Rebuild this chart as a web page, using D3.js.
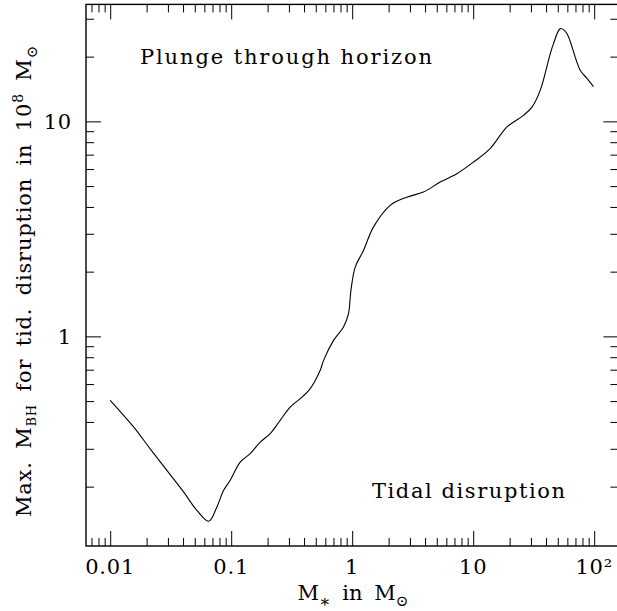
<!DOCTYPE html>
<html><head><meta charset="utf-8">
<script src="https://cdn.jsdelivr.net/npm/d3@7"></script>
<style>html,body{margin:0;padding:0;background:#fff;}svg{display:block;}</style>
</head><body>
<svg id="c" width="617" height="611"></svg>
<script>
// stellar mass (Msun)
const starMass = [0.01,0.0156,0.0214,0.0294,0.0404,0.0521,0.0652,0.0762,0.0864,0.0981,0.1187,0.1435,0.1737,0.210,0.254,0.307,0.372,0.450,0.544,0.580,0.701,0.847,0.932,0.976,1.059,1.240,1.500,2.06,2.83,3.88,5.33,7.33,10.06,13.8,18.97,26.0,30.6,35.8,43.3,46.1,52.4,57.5,61.4,76.6,87.5,98.6];
// max BH mass for tidal disruption (1e8 Msun)
const maxBH = [0.504,0.379,0.300,0.238,0.189,0.155,0.138,0.161,0.192,0.214,0.260,0.285,0.322,0.353,0.407,0.469,0.513,0.571,0.695,0.773,0.958,1.105,1.275,1.637,2.10,2.51,3.23,4.07,4.44,4.69,5.22,5.71,6.47,7.47,9.41,10.66,11.65,13.94,20.6,23.0,27.0,26.3,24.7,17.3,15.8,14.5];
const xMajorTicks = [0.01,0.1,1,10,100];
const xTickLabels = ["0.01","0.1","1","10","10²"];
const yMajorTicks = [1,10];
const yTickLabels = ["1","10"];

const svg = d3.select("#c");
const L=86, R=618.4, T=4.4, B=546;
const x = d3.scaleLog().domain([Math.pow(10,-2.2), Math.pow(10,2.2)]).range([L,R]);
const y = d3.scaleLog().domain([Math.pow(10,-0.975), Math.pow(10,1.544)]).range([B,T]);
const font = "'DejaVu Serif', serif";

function minors(scale){
  const [a,b]=scale.domain(); const out=[];
  for(let e=Math.floor(Math.log10(a));e<=Math.ceil(Math.log10(b));e++){
    for(let k=2;k<=9;k++){const v=k*Math.pow(10,e); if(v>=a&&v<=b) out.push(v);}
  }
  return out;
}
const xMinor = minors(x), yMinor = minors(y);
const major=15, minor=8;

function styleAxis(g){ g.select(".domain").remove(); g.selectAll("line").attr("stroke","#000").attr("stroke-width",1); g.selectAll("text").remove(); }

// bottom
svg.append("g").attr("transform",`translate(0,${B})`).call(d3.axisBottom(x).tickValues(xMajorTicks).tickSize(-major).tickFormat("")).call(styleAxis);
svg.append("g").attr("transform",`translate(0,${B})`).call(d3.axisBottom(x).tickValues(xMinor).tickSize(-minor).tickFormat("")).call(styleAxis);
// top
svg.append("g").attr("transform",`translate(0,${T})`).call(d3.axisTop(x).tickValues(xMajorTicks).tickSize(-major).tickFormat("")).call(styleAxis);
svg.append("g").attr("transform",`translate(0,${T})`).call(d3.axisTop(x).tickValues(xMinor).tickSize(-minor).tickFormat("")).call(styleAxis);
// left
svg.append("g").attr("transform",`translate(${L},0)`).call(d3.axisLeft(y).tickValues(yMajorTicks).tickSize(-major).tickFormat("")).call(styleAxis);
svg.append("g").attr("transform",`translate(${L},0)`).call(d3.axisLeft(y).tickValues(yMinor).tickSize(-minor).tickFormat("")).call(styleAxis);
// right
svg.append("g").attr("transform",`translate(${R},0)`).call(d3.axisRight(y).tickValues(yMajorTicks).tickSize(-major).tickFormat("")).call(styleAxis);
svg.append("g").attr("transform",`translate(${R},0)`).call(d3.axisRight(y).tickValues(yMinor).tickSize(-minor).tickFormat("")).call(styleAxis);

// frame
svg.append("rect").attr("x",L).attr("y",T).attr("width",R-L).attr("height",B-T)
  .attr("fill","none").attr("stroke","#000").attr("stroke-width",1.4);

// curve
const pts = starMass.map((m,i)=>[m,maxBH[i]]);
svg.append("path").datum(pts)
  .attr("d", d3.line().x(d=>x(d[0])).y(d=>y(d[1])).curve(d3.curveCatmullRom.alpha(0.5)))
  .attr("fill","none").attr("stroke","#000").attr("stroke-width",1.1);

// tick labels
svg.selectAll(".xl").data(xMajorTicks).enter().append("text")
  .attr("x",d=>x(d)).attr("y",574).attr("text-anchor","middle")
  .attr("font-family",font).attr("font-size",21).attr("letter-spacing",0.8).text((d,i)=>xTickLabels[i]);
svg.selectAll(".yl").data(yMajorTicks).enter().append("text")
  .attr("x",72).attr("y",d=>y(d)+8).attr("text-anchor","end")
  .attr("font-family",font).attr("font-size",21).attr("letter-spacing",0.8).text((d,i)=>yTickLabels[i]);

// x label
const xl = svg.append("text").attr("x",353).attr("y",600).attr("text-anchor","middle")
  .attr("font-family",font).attr("font-size",21).attr("word-spacing",5);
xl.append("tspan").text("M");
xl.append("tspan").attr("dy",7).attr("font-size",17).text("∗");
xl.append("tspan").attr("dy",-7).text(" in M");
xl.append("tspan").attr("dy",6).attr("font-size",15).text("⊙");

// y label
const yl = svg.append("text").attr("transform","translate(31,281) rotate(-90)").attr("text-anchor","middle")
  .attr("font-family",font).attr("font-size",21).attr("letter-spacing",0.8).attr("word-spacing",5);
yl.append("tspan").text("Max. M");
yl.append("tspan").attr("dy",5).attr("font-size",13).text("BH");
yl.append("tspan").attr("dy",-5).text(" for tid. disruption in 10");
yl.append("tspan").attr("dy",-8).attr("font-size",14).text("8");
yl.append("tspan").attr("dy",8).text(" M");
yl.append("tspan").attr("dy",6).attr("font-size",15).text("⊙");

// annotations
svg.append("text").attr("x",140).attr("y",64).attr("font-family",font).attr("font-size",21)
  .attr("textLength",292).attr("lengthAdjust","spacing").text("Plunge through horizon");
svg.append("text").attr("x",372).attr("y",498).attr("font-family",font).attr("font-size",21)
  .attr("textLength",193).attr("lengthAdjust","spacing").text("Tidal disruption");
</script>
</body></html>
